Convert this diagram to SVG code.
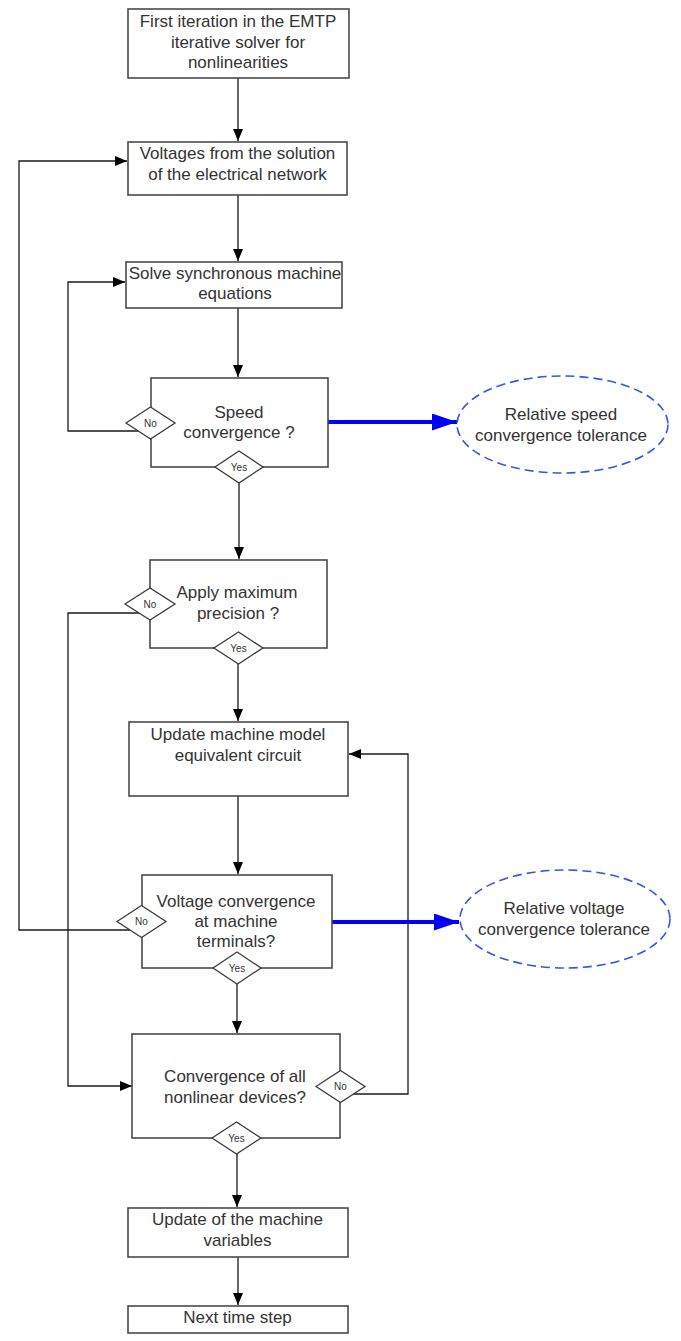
<svg xmlns="http://www.w3.org/2000/svg" width="681" height="1341" viewBox="0 0 681 1341">
<style>
.box{fill:#fff;stroke:#4a4a4a;stroke-width:1.6}
.dia{fill:#fff;stroke:#3a3a3a;stroke-width:1.3}
.t{font-family:"Liberation Sans",Arial,sans-serif;font-size:17px;fill:#333;text-anchor:middle}
.s{font-family:"Liberation Sans",Arial,sans-serif;font-size:10px;fill:#333;text-anchor:middle}
.c{fill:none;stroke:#1a1a1a;stroke-width:1.3}
.b{fill:none;stroke:#0000ff;stroke-width:4}
.el{fill:#fff;stroke:#3355ee;stroke-width:1.6;stroke-dasharray:9 5}
</style>
<defs>
<marker id="ah" markerUnits="userSpaceOnUse" markerWidth="13" markerHeight="11" refX="12" refY="5" orient="auto"><path d="M0,0 L12,5 L0,10 Z" fill="#000"/></marker>
<marker id="bh" markerUnits="userSpaceOnUse" markerWidth="26" markerHeight="18" refX="25" refY="8.5" orient="auto"><path d="M0,0 L25,8.5 L0,17 Z" fill="#0000ff"/></marker>
</defs>
<g id="connectors">
<line class="c" x1="238" y1="78" x2="238" y2="141" marker-end="url(#ah)"/>
<line class="c" x1="238" y1="195" x2="238" y2="261" marker-end="url(#ah)"/>
<line class="c" x1="238" y1="308" x2="238" y2="377" marker-end="url(#ah)"/>
<line class="c" x1="239" y1="483" x2="239" y2="559" marker-end="url(#ah)"/>
<line class="c" x1="238" y1="664" x2="238" y2="721" marker-end="url(#ah)"/>
<line class="c" x1="238" y1="796" x2="238" y2="874" marker-end="url(#ah)"/>
<line class="c" x1="237" y1="984" x2="237" y2="1033" marker-end="url(#ah)"/>
<line class="c" x1="237" y1="1154" x2="237" y2="1207" marker-end="url(#ah)"/>
<line class="c" x1="238" y1="1257" x2="238" y2="1305" marker-end="url(#ah)"/>
<polyline class="c" points="138,431 68,431 68,282 125,282" marker-end="url(#ah)"/>
<polyline class="c" points="139,613 68,613 68,1086 132,1086" marker-end="url(#ah)"/>
<polyline class="c" points="130,930 19,930 19,161 127,161" marker-end="url(#ah)"/>
<polyline class="c" points="353,1094 408,1094 408,754 349,754" marker-end="url(#ah)"/>
<line class="b" x1="328" y1="422" x2="457" y2="422" marker-end="url(#bh)"/>
<line class="b" x1="332" y1="922" x2="459" y2="922" marker-end="url(#bh)"/>
</g>
<g id="n1"><rect class="box" x="128" y="9" width="221" height="69"/>
<text class="t" x="238" y="27">First iteration in the EMTP</text>
<text class="t" x="238" y="47.5">iterative solver for</text>
<text class="t" x="238" y="68">nonlinearities</text></g>
<g id="n2"><rect class="box" x="128" y="142" width="219" height="53"/>
<text class="t" x="237.5" y="159">Voltages from the solution</text>
<text class="t" x="237.5" y="180">of the electrical network</text></g>
<g id="n3"><rect class="box" x="126" y="262" width="216" height="46"/>
<text class="t" x="235" y="279">Solve synchronous machine</text>
<text class="t" x="235" y="299">equations</text></g>
<g id="n4"><rect class="box" x="151" y="378" width="177" height="89"/>
<text class="t" x="239" y="418">Speed</text>
<text class="t" x="239" y="438">convergence ?</text>
<polygon class="dia" points="126,423 150.5,407 175,423 150.5,439"/><text class="s" x="150.5" y="426.5">No</text>
<polygon class="dia" points="215,467 239,451 263,467 239,483"/><text class="s" x="239" y="470.5">Yes</text></g>
<g id="e1"><ellipse class="el" cx="562.5" cy="424.5" rx="105.5" ry="48.5"/>
<text class="t" x="561" y="420">Relative speed</text>
<text class="t" x="561" y="441">convergence tolerance</text></g>
<g id="n5"><rect class="box" x="150" y="560" width="177" height="88"/>
<text class="t" x="237" y="598">Apply maximum</text>
<text class="t" x="238" y="618.5">precision ?</text>
<polygon class="dia" points="125,604 150,588 175,604 150,620"/><text class="s" x="150" y="607.5">No</text>
<polygon class="dia" points="214,648 238.5,632 263,648 238.5,664"/><text class="s" x="238.5" y="651.5">Yes</text></g>
<g id="n6"><rect class="box" x="129" y="722" width="219" height="74"/>
<text class="t" x="238" y="740">Update machine model</text>
<text class="t" x="238" y="760.5">equivalent circuit</text></g>
<g id="n7"><rect class="box" x="142" y="875" width="190" height="93"/>
<text class="t" x="236" y="907">Voltage convergence</text>
<text class="t" x="236" y="927">at machine</text>
<text class="t" x="236" y="947">terminals?</text>
<polygon class="dia" points="117,921.5 141.5,905.5 166,921.5 141.5,937.5"/><text class="s" x="141.5" y="925">No</text>
<polygon class="dia" points="213,968 237,952 261,968 237,984"/><text class="s" x="237" y="971.5">Yes</text></g>
<g id="e2"><ellipse class="el" cx="565" cy="919" rx="105" ry="49"/>
<text class="t" x="564" y="914">Relative voltage</text>
<text class="t" x="564" y="935">convergence tolerance</text></g>
<g id="n8"><rect class="box" x="132" y="1034" width="208" height="104"/>
<text class="t" x="235" y="1082">Convergence of all</text>
<text class="t" x="235" y="1102.5">nonlinear devices?</text>
<polygon class="dia" points="316,1086.5 340.5,1070.5 365,1086.5 340.5,1102.5"/><text class="s" x="340.5" y="1090">No</text>
<polygon class="dia" points="212,1138 236.5,1122 261,1138 236.5,1154"/><text class="s" x="236.5" y="1141.5">Yes</text></g>
<g id="n9"><rect class="box" x="128" y="1208" width="220" height="49"/>
<text class="t" x="237.5" y="1225">Update of the machine</text>
<text class="t" x="237.5" y="1245.5">variables</text></g>
<g id="n10"><rect class="box" x="128" y="1306" width="220" height="27"/>
<text class="t" x="237.5" y="1323">Next time step</text></g>
</svg>
